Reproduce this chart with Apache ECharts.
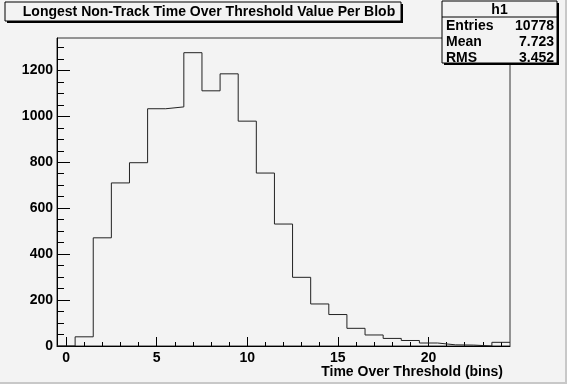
<!DOCTYPE html>
<html>
<head>
<meta charset="utf-8">
<script src="https://cdn.jsdelivr.net/npm/echarts@6/dist/echarts.min.js"></script>
<style>
html,body{margin:0;padding:0;background:#f3f3f3;}
#c{width:567px;height:384px;}
</style>
</head>
<body>
<div id="c"></div>
<script>
// ---- data ----
const binCenters = [0,1,2,3,4,5,6,7,8,9,10,11,12,13,14,15,16,17,18,19,20,21,22,23,24];
const counts     = [0,40,471,710,798,1033,1041,1277,1111,1185,979,753,531,299,183,137,77,48,33,24,13,5,4,0,16];
const binWidth = 1;
const xTickLabels = [0,5,10,15,20];
const xMinorTicks = [0,1,2,3,4,5,6,7,8,9,10,11,12,13,14,15,16,17,18,19,20,21,22,23,24];
const yTickLabels = [0,200,400,600,800,1000,1200];
const yMinorTicks = [0,50,100,150,200,250,300,350,400,450,500,550,600,650,700,750,800,850,900,950,1000,1050,1100,1150,1200,1250,1300];
const xRange = [-0.5, 24.5];
const yRange = [0, 1341];
const titleText = 'Longest Non-Track Time Over Threshold Value Per Blob';
const xTitle = 'Time Over Threshold (bins)';
const statsName = 'h1';
const statsLabels = ['Entries','Mean','RMS'];
const statsValues = ['10778','7.723','3.452'];

// histogram outline: left edges with step 'end', plus closing right edge
const stepData = binCenters.map((c,i)=>[c - binWidth/2, counts[i]]);
stepData.push([binCenters[binCenters.length-1] + binWidth/2, counts[counts.length-1]]);

const FONT = 'Liberation Sans, Arial, Helvetica, sans-serif';
const BG = '#f3f3f3';
const chart = echarts.init(document.getElementById('c'), null, {renderer:'canvas'});

function statsGraphic(){
  const x0 = 442, y0 = 1, w = 115, h = 62;
  const children = [
    {type:'rect', shape:{x:x0+2,y:y0+2,width:w,height:h}, style:{fill:'#000'}},
    {type:'rect', shape:{x:x0,y:y0,width:w,height:h}, style:{fill:BG, stroke:'#000', lineWidth:1}},
    {type:'line', shape:{x1:x0,y1:y0+16,x2:x0+w,y2:y0+16}, style:{stroke:'#000',lineWidth:1}},
    {type:'text', x:x0+w/2, y:y0+9, style:{text:statsName, font:'bold 14px '+FONT, fill:'#000', align:'center', verticalAlign:'middle'}}
  ];
  statsLabels.forEach((l,i)=>{
    const yy = y0 + 25 + i*16;
    children.push({type:'text', x:x0+4, y:yy, style:{text:l, font:'bold 14px '+FONT, fill:'#000', align:'left', verticalAlign:'middle'}});
    children.push({type:'text', x:x0+w-3, y:yy, style:{text:statsValues[i], font:'bold 14px '+FONT, fill:'#000', align:'right', verticalAlign:'middle'}});
  });
  return {type:'group', children};
}

const plain = v => String(v);

const option = {
  animation:false,
  backgroundColor: BG,
  grid:{left:57, right:57, top:38, bottom:38, show:true, borderColor:'#333', borderWidth:1, backgroundColor:'transparent', containLabel:false},
  xAxis:[
    {type:'value', min:xRange[0], max:xRange[1], position:'bottom',
     axisLine:{show:true, onZero:false, lineStyle:{color:'#000', width:1}},
     axisTick:{show:true, inside:true, length:9, customValues:xTickLabels, lineStyle:{color:'#000'}},
     axisLabel:{show:true, customValues:xTickLabels, formatter:plain, margin:5, color:'#000', fontFamily:FONT, fontWeight:'bold', fontSize:14},
     splitLine:{show:false},
     name:xTitle, nameLocation:'end', nameGap:-7,
     nameTextStyle:{color:'#000', fontFamily:FONT, fontWeight:'bold', fontSize:14, align:'right', verticalAlign:'top', padding:[19,0,0,0]}
    },
    {type:'value', min:xRange[0], max:xRange[1], position:'bottom',
     axisLine:{show:false, onZero:false},
     axisTick:{show:true, inside:true, length:4, customValues:xMinorTicks, lineStyle:{color:'#000'}},
     axisLabel:{show:false}, splitLine:{show:false}
    }
  ],
  yAxis:[
    {type:'value', min:yRange[0], max:yRange[1], position:'left',
     axisLine:{show:true, onZero:false, lineStyle:{color:'#000', width:1}},
     axisTick:{show:true, inside:true, length:13, customValues:yTickLabels, lineStyle:{color:'#000'}},
     axisLabel:{show:true, customValues:yTickLabels, formatter:plain, margin:4, color:'#000', fontFamily:FONT, fontWeight:'bold', fontSize:14},
     splitLine:{show:false}
    },
    {type:'value', min:yRange[0], max:yRange[1], position:'left',
     axisLine:{show:false, onZero:false},
     axisTick:{show:true, inside:true, length:7, customValues:yMinorTicks, lineStyle:{color:'#000'}},
     axisLabel:{show:false}, splitLine:{show:false}
    }
  ],
  series:[{
    type:'line', step:'end', data:stepData, xAxisIndex:0, yAxisIndex:0,
    symbol:'none', lineStyle:{color:'#222', width:1}, silent:true
  }],
  graphic:[
    // canvas bevel
    {type:'rect', shape:{x:0,y:382,width:567,height:2}, style:{fill:'#c8c8c8'}, z:100},
    {type:'rect', shape:{x:565,y:0,width:2,height:384}, style:{fill:'#c8c8c8'}, z:100},
    // title box
    {type:'group', children:[
      {type:'rect', shape:{x:7,y:4,width:396,height:19}, style:{fill:'#000'}},
      {type:'rect', shape:{x:5,y:2,width:396,height:19}, style:{fill:BG, stroke:'#000', lineWidth:1}},
      {type:'text', x:209, y:12, style:{text:titleText, font:'bold 14px '+FONT, fill:'#000', align:'center', verticalAlign:'middle'}}
    ]},
    statsGraphic()
  ]
};
chart.setOption(option);
</script>
</body>
</html>
